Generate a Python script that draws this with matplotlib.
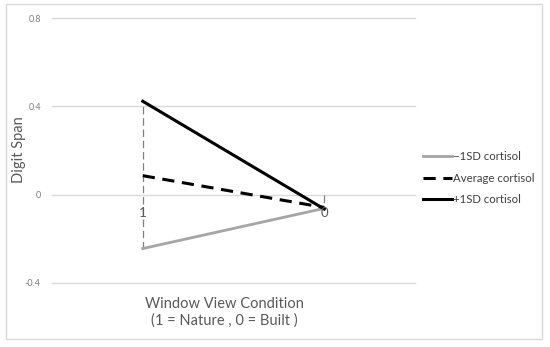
import matplotlib
matplotlib.use('Agg')
import matplotlib.pyplot as plt
from matplotlib.patches import Rectangle

plt.rcParams['font.family'] = ['Lato', 'DejaVu Sans']

## Data
categories = ["1", "0"]
low_cortisol = [-0.244, -0.062]
avg_cortisol = [0.086, -0.058]
high_cortisol = [0.423, -0.065]
series_names = ["\u22121SD cortisol", "Average cortisol", "+1SD cortisol"]
yticks = [-0.4, 0, 0.4, 0.8]
ytick_labels = ["-0.4", "0", "0.4", "0.8"]

fig = plt.figure(figsize=(5.5, 3.47), dpi=100)
ax = fig.add_axes([52/550, 1-283/347, (415-52)/550, (283-18)/347])

# outer chart border
fig.patches.append(Rectangle((6/550, 1-339/347), 536/550, 335/347,
                             transform=fig.transFigure, fill=False,
                             edgecolor='#d9d9d9', linewidth=1))

xs = list(range(len(categories)))

# dashed drop lines
ax.plot([xs[0], xs[0]], [min(low_cortisol[0], high_cortisol[0]), max(low_cortisol[0], high_cortisol[0])],
        color='#808080', lw=0.9, ls=(0, (6, 3)), zorder=2)
ax.plot([xs[1], xs[1]], [0, min(low_cortisol[1], avg_cortisol[1], high_cortisol[1])],
        color='#808080', lw=0.9, ls=(0, (6, 3)), zorder=2)

ax.plot(xs, low_cortisol, color='#a5a5a5', lw=2, label=series_names[0], zorder=3)
ax.plot(xs, avg_cortisol, color='black', lw=2.2, ls=(0, (4, 2.5)), label=series_names[1], zorder=3)
ax.plot(xs, high_cortisol, color='black', lw=2.2, label=series_names[2], zorder=3)

ax.set_xlim(-0.5, 1.5)
ax.set_ylim(-0.4, 0.8)
ax.set_yticks(yticks)
ax.set_yticklabels(ytick_labels, fontsize=6.5, color='#7f7f7f')
ax.set_xticks([])
ax.yaxis.grid(True, color='#d9d9d9', lw=1)
for gl in ax.get_ygridlines():
    gl.set_clip_on(False)
ax.set_axisbelow(True)
ax.tick_params(axis='y', length=0, pad=8)
for s in ax.spines.values():
    s.set_visible(False)

# category labels sitting on the zero line
for x, lab in zip(xs, categories):
    ax.text(x, -0.085, lab, ha='center', va='center', fontsize=9.5, color='#595959', zorder=4)

fig.text(19/550, 1-150/347, "Digit Span", rotation=90, ha='center', va='center',
         fontsize=10.5, color='#595959')
fig.text(224/550, 1-312/347, "Window View Condition\n(1 = Nature , 0 = Built )",
         ha='center', va='center', fontsize=10.5, color='#595959', linespacing=1.2)

leg = fig.legend(loc='center left', bbox_to_anchor=(413/550, 1-178/347), frameon=False,
                 fontsize=8.2, handlelength=2.5, handletextpad=0.1, labelspacing=0.95)
for t in leg.get_texts():
    t.set_color('#404040')

fig.savefig('out.png', dpi=100)
